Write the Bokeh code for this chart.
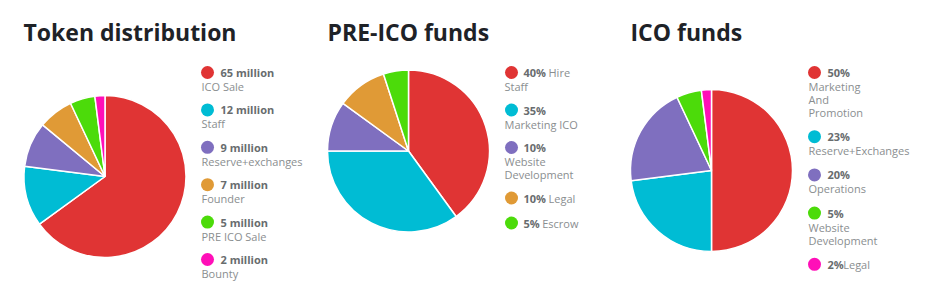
import math
from bokeh.plotting import figure
from bokeh.layouts import row
from bokeh.models import Range1d, ColumnDataSource
from bokeh.embed import file_html
from bokeh.resources import INLINE
from bokeh.core.properties import value

W, H = 933, 291

# ---------------- data ----------------
titles = ["Token distribution", "PRE-ICO funds", "ICO funds"]

token_labels = ["ICO Sale", "Staff", "Reserve+exchanges", "Founder", "PRE ICO Sale", "Bounty"]
token_values = [65, 12, 9, 7, 5, 2]
token_value_text = ["65 million", "12 million", "9 million", "7 million", "5 million", "2 million"]
# display wrapping ("\n" = line break, leading "\n" = label starts on next line)
token_display = ["\nICO Sale", "\nStaff", "\nReserve+exchanges", "\nFounder", "\nPRE ICO Sale", "\nBounty"]

pre_labels = ["Hire Staff", "Marketing ICO", "Website Development", "Legal", "Escrow"]
pre_values = [40, 35, 10, 10, 5]
pre_value_text = ["40%", "35%", "10%", "10%", "5%"]
pre_display = [" Hire\nStaff", "\nMarketing ICO", "\nWebsite\nDevelopment", " Legal", " Escrow"]

ico_labels = ["Marketing And Promotion", "Reserve+Exchanges", "Operations", "Website Development", "Legal"]
ico_values = [50, 23, 20, 5, 2]
ico_value_text = ["50%", "23%", "20%", "5%", "2%"]
ico_display = ["\nMarketing\nAnd\nPromotion", "\nReserve+Exchanges", "\nOperations", "\nWebsite\nDevelopment", "Legal"]

RED, CYAN, PURPLE, ORANGE, GREEN, MAGENTA = "#E03434", "#00BCD4", "#7F6FBF", "#E09A36", "#4CDB0A", "#FF0FB8"
token_colors = [RED, CYAN, PURPLE, ORANGE, GREEN, MAGENTA]
pre_colors = [RED, CYAN, PURPLE, ORANGE, GREEN]
ico_colors = [RED, CYAN, PURPLE, GREEN, MAGENTA]

# ---------------- layout / style ----------------
FONT = "Open Sans"
TITLE_COLOR = "#1E2227"
BOLD_COLOR = "#686C6E"
TEXT_COLOR = "#8A8E90"

charts = [
    dict(x0=0, w=310, title=titles[0], tx=23, cx=104.5, cy=176, r=81,
         lx=207, bx=220, sx=201, ly=72, step_gap=23.4,
         values=token_values, vtext=token_value_text, disp=token_display, colors=token_colors),
    dict(x0=310, w=310, title=titles[1], tx=327, cx=408, cy=150.5, r=81,
         lx=511, bx=523, sx=504, ly=72, step_gap=23.5,
         values=pre_values, vtext=pre_value_text, disp=pre_display, colors=pre_colors),
    dict(x0=620, w=313, title=titles[2], tx=630, cx=711, cy=170, r=81,
         lx=814, bx=827, sx=808, ly=72, step_gap=24.2,
         values=ico_values, vtext=ico_value_text, disp=ico_display, colors=ico_colors),
]


def bold_width(s, size=11):
    tab = {"%": 0.86, " ": 0.26}
    return sum(tab.get(c, 0.57) for c in s) * size


def fy(py):
    return H - py


figs = []
for ch in charts:
    p = figure(width=ch["w"], height=H,
               x_range=Range1d(ch["x0"], ch["x0"] + ch["w"]),
               y_range=Range1d(0, H),
               output_backend="svg", toolbar_location=None,
               min_border=0, outline_line_color=None,
               background_fill_color="white", border_fill_color="white")
    p.axis.visible = False
    p.grid.visible = False

    # title
    p.text(x=[ch["tx"]], y=[fy(31)], text=[ch["title"]],
           text_font=value(FONT), text_font_style="bold", text_font_size="23px",
           text_color=TITLE_COLOR, text_baseline="alphabetic", text_align="left")

    # pie
    vals = ch["values"]
    cols = ch["colors"]
    total = float(sum(vals))
    starts, ends, cum = [], [], 0.0
    for v in vals:
        starts.append(math.pi / 2 - 2 * math.pi * cum / total)
        cum += v
        ends.append(math.pi / 2 - 2 * math.pi * cum / total)
    n = len(vals)
    src = ColumnDataSource(dict(x=[ch["cx"]] * n, y=[fy(ch["cy"])] * n,
                                start=starts, end=ends, color=cols))
    p.wedge(x="x", y="y", radius=ch["r"], radius_units="screen",
            start_angle="start", end_angle="end", direction="clock",
            fill_color="color", line_color="white", line_width=1.5, source=src)

    # legend
    y = ch["ly"]
    cx_l, cy_l = [], []
    bxs, bys, btx = [], [], []
    rxs, rys, rtx = [], [], []
    for i in range(n):
        cx_l.append(ch["lx"]); cy_l.append(fy(y))
        bxs.append(ch["bx"]); bys.append(fy(y)); btx.append(ch["vtext"][i])
        parts = ch["disp"][i].split("\n")
        first = parts[0]
        if first.strip():
            off = bold_width(ch["vtext"][i]) + (3 if first.startswith(" ") else 0)
            rxs.append(ch["bx"] + off); rys.append(fy(y)); rtx.append(first.strip())
        last = y
        for k, line in enumerate(parts[1:]):
            ly = y + 14 + 13 * k
            rxs.append(ch["sx"]); rys.append(fy(ly)); rtx.append(line)
            last = ly
        if last == y:
            y = y + 25
        else:
            y = last + ch["step_gap"]
    p.scatter(x=cx_l, y=cy_l, size=13, marker="circle", fill_color=cols, line_color=None)
    p.text(x=bxs, y=bys, text=btx, text_font=value(FONT), text_font_style="bold",
           text_font_size="11px", text_color=BOLD_COLOR, text_baseline="middle")
    p.text(x=rxs, y=rys, text=rtx, text_font=value(FONT),
           text_font_size="11px", text_color=TEXT_COLOR, text_baseline="middle")
    figs.append(p)

layout = row(*figs, spacing=0)
open("out.html", "w").write(file_html(layout, INLINE))
